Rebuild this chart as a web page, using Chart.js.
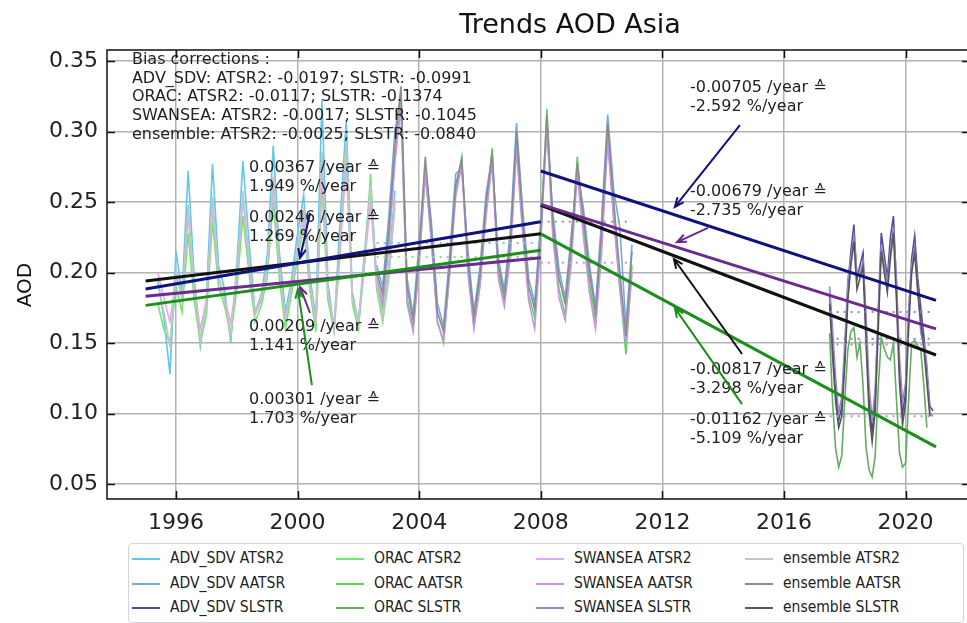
<!DOCTYPE html>
<html>
<head>
<meta charset="utf-8">
<script src="https://cdn.jsdelivr.net/npm/chart.js@4.4.0/dist/chart.umd.min.js"></script>
<style>
  body { margin: 0; background: #fff; }
  #wrap { position: relative; width: 967px; height: 623px; overflow: hidden; }
  #legend { position: absolute; left: 128px; top: 543px; width: 834px; height: 78px;
    border: 1px solid #d4d4d4; border-radius: 4px; background: #fff;
    font-family: "DejaVu Sans Condensed", "DejaVu Sans", sans-serif; font-size: 15.5px; color: #222; }
  .item { position: absolute; height: 20px; line-height: 20px; white-space: nowrap; }
  .sw { display: inline-block; width: 28px; height: 0; border-top: 2px solid; vertical-align: middle; margin-right: 10px; }
</style>
</head>
<body>
<div id="wrap">
  <canvas id="chart" width="967" height="623"></canvas>
  <div id="legend"></div>
</div>
<script>
// axis
const xTicks = [1996, 2000, 2004, 2008, 2012, 2016, 2020];
const yTicks = [0.05, 0.10, 0.15, 0.20, 0.25, 0.30, 0.35];

// sampling times of each sensor (decimal years)
const atsr2Years = [1995.4, 1995.6, 1995.8, 1996.0, 1996.2, 1996.4, 1996.6, 1996.8, 1997.0, 1997.2,
  1997.4, 1997.6, 1997.8, 1998.0, 1998.2, 1998.4, 1998.6, 1998.8, 1999.0, 1999.2,
  1999.4, 1999.6, 1999.8, 2000.0, 2000.2, 2000.4, 2000.6, 2000.8, 2001.0, 2001.2,
  2001.4, 2001.6, 2001.8, 2002.0, 2002.2, 2002.4, 2002.6, 2002.8, 2003.0, 2003.2];
const aatsrYears = [2002.6, 2002.8, 2003.0, 2003.2, 2003.4, 2003.6, 2003.8, 2004.0, 2004.2, 2004.4,
  2004.6, 2004.8, 2005.0, 2005.2, 2005.4, 2005.6, 2005.8, 2006.0, 2006.2, 2006.4,
  2006.6, 2006.8, 2007.0, 2007.2, 2007.4, 2007.6, 2007.8, 2008.0, 2008.2, 2008.4,
  2008.6, 2008.8, 2009.0, 2009.2, 2009.4, 2009.6, 2009.8, 2010.0, 2010.2, 2010.4,
  2010.6, 2010.8, 2011.0];
const slstrYears = [2017.5, 2017.6, 2017.7, 2017.8, 2017.9, 2018.0, 2018.1, 2018.2, 2018.3, 2018.4,
  2018.5, 2018.6, 2018.7, 2018.8, 2018.9, 2019.0, 2019.1, 2019.2, 2019.3, 2019.4,
  2019.5, 2019.6, 2019.7, 2019.8, 2019.9, 2020.0, 2020.1, 2020.2, 2020.3, 2020.4,
  2020.5, 2020.6, 2020.7, 2020.8, 2020.9];

// AOD series
const advAtsr2 = [0.195, 0.168, 0.128, 0.215, 0.185, 0.272, 0.196, 0.148, 0.182, 0.277,
  0.205, 0.188, 0.150, 0.205, 0.279, 0.222, 0.172, 0.184, 0.212, 0.290,
  0.214, 0.172, 0.195, 0.228, 0.255, 0.198, 0.168, 0.322, 0.192, 0.160,
  0.238, 0.308, 0.186, 0.165, 0.214, 0.262, 0.196, 0.170, 0.205, 0.258];
const advAatsr = [0.205, 0.190, 0.240, 0.300, 0.325, 0.196, 0.170, 0.222, 0.276, 0.236,
  0.178, 0.162, 0.212, 0.270, 0.274, 0.216, 0.172, 0.204, 0.256, 0.282,
  0.210, 0.188, 0.230, 0.306, 0.246, 0.196, 0.178, 0.238, 0.300, 0.242,
  0.202, 0.182, 0.226, 0.272, 0.246, 0.206, 0.176, 0.238, 0.312, 0.258,
  0.232, 0.162, 0.220];
const advSlstr = [0.185, 0.150, 0.115, 0.095, 0.105, 0.140, 0.190, 0.215, 0.234, 0.195,
  0.205, 0.214, 0.160, 0.110, 0.086, 0.110, 0.170, 0.228, 0.212, 0.196,
  0.225, 0.240, 0.190, 0.130, 0.100, 0.115, 0.170, 0.210, 0.226, 0.196,
  0.175, 0.155, 0.130, 0.105, 0.102];
const oracAtsr2 = [0.178, 0.160, 0.150, 0.190, 0.172, 0.228, 0.180, 0.150, 0.170, 0.236,
  0.190, 0.176, 0.155, 0.188, 0.240, 0.200, 0.165, 0.176, 0.196, 0.252,
  0.196, 0.160, 0.185, 0.210, 0.232, 0.188, 0.158, 0.262, 0.180, 0.158,
  0.214, 0.292, 0.178, 0.160, 0.205, 0.270, 0.188, 0.165, 0.196, 0.250];
const oracAatsr = [0.192, 0.176, 0.222, 0.280, 0.320, 0.182, 0.160, 0.208, 0.270, 0.224,
  0.166, 0.150, 0.200, 0.258, 0.282, 0.204, 0.162, 0.192, 0.246, 0.288,
  0.200, 0.180, 0.216, 0.290, 0.232, 0.184, 0.168, 0.226, 0.316, 0.228,
  0.188, 0.170, 0.212, 0.282, 0.232, 0.192, 0.166, 0.222, 0.296, 0.240,
  0.190, 0.142, 0.205];
const oracSlstr = [0.157, 0.107, 0.075, 0.062, 0.070, 0.110, 0.145, 0.158, 0.161, 0.140,
  0.150, 0.120, 0.076, 0.060, 0.055, 0.070, 0.118, 0.154, 0.146, 0.140,
  0.138, 0.150, 0.110, 0.072, 0.062, 0.065, 0.110, 0.150, 0.152, 0.148,
  0.145, 0.120, 0.090, null, null];
const swanAtsr2 = [0.200, 0.182, 0.165, 0.196, 0.184, 0.240, 0.190, 0.160, 0.180, 0.246,
  0.196, 0.182, 0.164, 0.196, 0.252, 0.206, 0.172, 0.182, 0.204, 0.262,
  0.204, 0.168, 0.190, 0.214, 0.240, 0.192, 0.165, 0.270, 0.186, 0.162,
  0.220, 0.276, 0.182, 0.166, 0.206, 0.250, 0.192, 0.170, 0.200, 0.246];
const swanAatsr = [0.196, 0.180, 0.220, 0.278, 0.318, 0.178, 0.158, 0.206, 0.272, 0.222,
  0.164, 0.152, 0.198, 0.254, 0.276, 0.200, 0.160, 0.190, 0.240, 0.278,
  0.196, 0.176, 0.212, 0.288, 0.228, 0.180, 0.160, 0.222, 0.304, 0.224,
  0.182, 0.166, 0.206, 0.270, 0.226, 0.186, 0.160, 0.214, 0.294, 0.236,
  0.188, 0.150, 0.200];
const swanSlstr = [0.190, 0.160, 0.125, 0.100, 0.112, 0.150, 0.195, 0.210, 0.226, 0.200,
  0.198, 0.208, 0.170, 0.120, 0.095, 0.118, 0.172, 0.220, 0.205, 0.192,
  0.215, 0.232, 0.195, 0.140, 0.108, 0.122, 0.172, 0.205, 0.218, 0.190,
  0.157, 0.150, 0.135, 0.100, 0.098];
const ensAtsr2 = [0.192, 0.172, 0.148, 0.202, 0.180, 0.248, 0.190, 0.152, 0.178, 0.254,
  0.198, 0.180, 0.156, 0.198, 0.258, 0.210, 0.170, 0.180, 0.204, 0.268,
  0.206, 0.166, 0.190, 0.218, 0.245, 0.194, 0.164, 0.286, 0.186, 0.160,
  0.224, 0.292, 0.182, 0.164, 0.208, 0.262, 0.192, 0.168, 0.200, 0.252];
const ensAatsr = [0.200, 0.185, 0.230, 0.290, 0.332, 0.190, 0.166, 0.215, 0.282, 0.230,
  0.172, 0.158, 0.205, 0.262, 0.280, 0.210, 0.168, 0.198, 0.250, 0.285,
  0.205, 0.184, 0.222, 0.300, 0.240, 0.190, 0.174, 0.230, 0.312, 0.235,
  0.196, 0.178, 0.220, 0.278, 0.240, 0.200, 0.172, 0.230, 0.306, 0.250,
  0.200, 0.155, 0.215];
const ensSlstr = [0.178, 0.140, 0.108, 0.090, 0.098, 0.135, 0.180, 0.205, 0.222, 0.188,
  0.196, 0.204, 0.150, 0.100, 0.080, 0.102, 0.160, 0.215, 0.200, 0.186,
  0.210, 0.228, 0.180, 0.122, 0.092, 0.108, 0.160, 0.200, 0.214, 0.186,
  0.165, 0.146, 0.122, 0.098, null];

// linear trends (start, end) for the two periods
const trendYears1 = [1995, 2008];
const trendYears2 = [2008, 2021];
const trendAdv1 = [0.1883, 0.2360];
const trendOrac1 = [0.1767, 0.2158];
const trendSwan1 = [0.1832, 0.2104];
const trendEns1 = [0.1940, 0.2275];
const trendAdv2 = [0.2720, 0.1803];
const trendOrac2 = [0.2274, 0.0764];
const trendSwan2 = [0.2483, 0.1600];
const trendEns2 = [0.2477, 0.1415];

// dotted reference levels
const refStart = [2002.6, 2002.6, 2008.0, 2008.0, 2017.5, 2017.5, 2017.5, 2017.5];
const refEnd = [2008.0, 2008.0, 2011.0, 2011.0, 2020.9, 2020.9, 2020.9, 2020.9];
const refLevel = [0.221, 0.211, 0.236, 0.207, 0.172, 0.153, 0.149, 0.098];

// annotations
const biasLines = ['Bias corrections :',
  'ADV_SDV: ATSR2: -0.0197; SLSTR: -0.0991',
  'ORAC: ATSR2: -0.0117; SLSTR: -0.1374',
  'SWANSEA: ATSR2: -0.0017; SLSTR: -0.1045',
  'ensemble: ATSR2: -0.0025; SLSTR: -0.0840'];
const noteText = [
  ['0.00367 /year \u2259', '1.949 %/year'],
  ['0.00246 /year \u2259', '1.269 %/year'],
  ['0.00209 /year \u2259', '1.141 %/year'],
  ['0.00301 /year \u2259', '1.703 %/year'],
  ['-0.00705 /year \u2259', '-2.592 %/year'],
  ['-0.00679 /year \u2259', '-2.735 %/year'],
  ['-0.00817 /year \u2259', '-3.298 %/year'],
  ['-0.01162 /year \u2259', '-5.109 %/year']];
const noteX = [1998.40, 1998.40, 1998.40, 1998.40, 2012.91, 2012.91, 2012.91, 2012.91];
const noteY = [0.2741, 0.2387, 0.1613, 0.1096, 0.3309, 0.2571, 0.1309, 0.0954];
const arrowFrom = [[2000.41, 0.2422], [2000.41, 0.1713], [2000.47, 0.1202],
  [2014.55, 0.3046], [2013.50, 0.2316], [2014.62, 0.1422], [2014.62, 0.1067]];
const arrowTo = [[2000.08, 0.2103], [2000.08, 0.1897], [2000.01, 0.1883],
  [2012.41, 0.2465], [2012.48, 0.2216], [2012.38, 0.2096], [2012.41, 0.1748]];
const arrowColor = ['#10107f', '#6b2a8f', '#1a8f1a', '#10107f', '#6b2a8f', '#111111', '#1a8f1a'];

const navy = '#10107f', purple = '#6b2a8f', green = '#1a8f1a', black = '#111111';

function pts(xs, ys) {
  return xs.map((x, i) => ({ x: x, y: ys[i] })).filter(p => p.y !== null);
}

const series = [
  { label: 'ADV_SDV ATSR2', x: atsr2Years, y: advAtsr2, color: '#5fc8ee' },
  { label: 'ADV_SDV AATSR', x: aatsrYears, y: advAatsr, color: '#74a9e2' },
  { label: 'ADV_SDV SLSTR', x: slstrYears, y: advSlstr, color: '#4c4c9c' },
  { label: 'ORAC ATSR2', x: atsr2Years, y: oracAtsr2, color: '#70e870' },
  { label: 'ORAC AATSR', x: aatsrYears, y: oracAatsr, color: '#5cd35c' },
  { label: 'ORAC SLSTR', x: slstrYears, y: oracSlstr, color: '#64ac64' },
  { label: 'SWANSEA ATSR2', x: atsr2Years, y: swanAtsr2, color: '#e0aaf2' },
  { label: 'SWANSEA AATSR', x: aatsrYears, y: swanAatsr, color: '#c992ea' },
  { label: 'SWANSEA SLSTR', x: slstrYears, y: swanSlstr, color: '#9c84cb' },
  { label: 'ensemble ATSR2', x: atsr2Years, y: ensAtsr2, color: '#c4c4c4' },
  { label: 'ensemble AATSR', x: aatsrYears, y: ensAatsr, color: '#8c8c8c' },
  { label: 'ensemble SLSTR', x: slstrYears, y: ensSlstr, color: '#555555' }
];

const refColors = ['#86bbe8', '#8fdc8f', '#9a9a9a', '#c890e8', '#9a80c8', '#8c8ca8', '#9a9ab8', '#9aaa9a'];

const datasets = [];
[[trendYears1, trendAdv1, navy], [trendYears1, trendOrac1, green], [trendYears1, trendSwan1, purple], [trendYears1, trendEns1, black],
 [trendYears2, trendAdv2, navy], [trendYears2, trendOrac2, green], [trendYears2, trendSwan2, purple], [trendYears2, trendEns2, black]]
  .forEach(t => datasets.push({ label: 'trend', data: pts(t[0], t[1]), borderColor: t[2], borderWidth: 3, order: 0 }));
refLevel.forEach((v, i) => datasets.push({ label: 'ref', data: pts([refStart[i], refEnd[i]], [v, v]),
  borderColor: refColors[i], borderWidth: 2, borderDash: [2, 5], order: 1 }));
// later series are drawn on top, as in the original plot
series.forEach((s, i) => datasets.push({ label: s.label, data: pts(s.x, s.y), borderColor: s.color,
  borderWidth: 1.6, order: 100 - i }));

const overlay = {
  id: 'overlay',
  afterDatasetsDraw(chart) {
    const { ctx, chartArea: a, scales: { x, y } } = chart;
    ctx.save();
    ctx.fillStyle = '#222';
    ctx.font = '16px "DejaVu Sans"';
    ctx.textBaseline = 'middle';
    ctx.textAlign = 'left';
    biasLines.forEach((t, i) => ctx.fillText(t, x.getPixelForValue(1994.55), y.getPixelForValue(0.3507) + i * 18.6));
    noteText.forEach((lines, i) => {
      lines.forEach((t, j) => ctx.fillText(t, x.getPixelForValue(noteX[i]), y.getPixelForValue(noteY[i]) + j * 18.6));
    });
    arrowFrom.forEach((f, i) => {
      const x0 = x.getPixelForValue(f[0]), y0 = y.getPixelForValue(f[1]);
      const x1 = x.getPixelForValue(arrowTo[i][0]), y1 = y.getPixelForValue(arrowTo[i][1]);
      const ang = Math.atan2(y1 - y0, x1 - x0);
      ctx.strokeStyle = arrowColor[i];
      ctx.lineWidth = 2;
      ctx.beginPath();
      ctx.moveTo(x0, y0); ctx.lineTo(x1, y1);
      ctx.moveTo(x1 - 10 * Math.cos(ang - 0.4), y1 - 10 * Math.sin(ang - 0.4));
      ctx.lineTo(x1, y1);
      ctx.lineTo(x1 - 10 * Math.cos(ang + 0.4), y1 - 10 * Math.sin(ang + 0.4));
      ctx.stroke();
    });
    // spines and inward ticks
    ctx.strokeStyle = '#111';
    ctx.lineWidth = 1.5;
    ctx.beginPath();
    ctx.moveTo(a.right + 2, a.top); ctx.lineTo(a.left, a.top); ctx.lineTo(a.left, a.bottom); ctx.lineTo(a.right + 2, a.bottom);
    yTicks.forEach(v => {
      const py = Math.round(y.getPixelForValue(v)) + 0.5;
      ctx.moveTo(a.left, py); ctx.lineTo(a.left + 8, py);
      ctx.moveTo(a.right - 5, py); ctx.lineTo(a.right, py);
    });
    xTicks.forEach(v => {
      const px = Math.round(x.getPixelForValue(v)) + 0.5;
      ctx.moveTo(px, a.bottom); ctx.lineTo(px, a.bottom - 8);
      ctx.moveTo(px, a.top); ctx.lineTo(px, a.top + 8);
    });
    ctx.stroke();
    // title and axis label
    ctx.fillStyle = '#111';
    ctx.font = '27px "DejaVu Sans"';
    ctx.textAlign = 'center';
    ctx.fillText('Trends AOD Asia', 570, 26);
    ctx.font = '20px "DejaVu Sans"';
    ctx.translate(26, 285);
    ctx.rotate(-Math.PI / 2);
    ctx.fillText('AOD', 0, 0);
    ctx.restore();
  }
};

const tickFont = { family: 'DejaVu Sans', size: 22 };

new Chart(document.getElementById('chart'), {
  type: 'line',
  data: { datasets: datasets },
  options: {
    responsive: false,
    animation: false,
    devicePixelRatio: 1,
    elements: { point: { radius: 0 }, line: { tension: 0 } },
    layout: { padding: { top: 50, right: 0, bottom: 0, left: 0 } },
    plugins: { legend: { display: false }, title: { display: false }, tooltip: { enabled: false } },
    scales: {
      x: {
        type: 'linear', min: 1993.73, max: 2022.02,
        afterBuildTicks: s => { s.ticks = xTicks.map(v => ({ value: v })); },
        afterFit: s => { s.height = 124; },
        grid: { color: '#b2b2b2', lineWidth: 1.5, drawTicks: false },
        border: { display: false },
        ticks: { padding: 11, font: tickFont, color: '#222', maxRotation: 0, autoSkip: false, callback: v => String(v) }
      },
      y: {
        type: 'linear', min: 0.0394, max: 0.3578,
        afterBuildTicks: s => { s.ticks = yTicks.map(v => ({ value: v })); },
        afterFit: s => { s.width = 107; },
        grid: { color: '#b2b2b2', lineWidth: 1.5, drawTicks: false },
        border: { display: false },
        ticks: { padding: 9, font: tickFont, color: '#222', callback: v => v.toFixed(2) }
      }
    }
  },
  plugins: [overlay]
});

// legend: 4 columns, filled column by column
const legend = document.getElementById('legend');
const colLeft = [3, 207, 407, 616];
const rowTop = [4, 29, 53];
series.forEach((s, i) => {
  const el = document.createElement('div');
  el.className = 'item';
  el.style.left = colLeft[Math.floor(i / 3)] + 'px';
  el.style.top = rowTop[i % 3] + 'px';
  el.innerHTML = '<span class="sw" style="border-color:' + s.color + '"></span>' + s.label;
  legend.appendChild(el);
});
</script>
</body>
</html>
